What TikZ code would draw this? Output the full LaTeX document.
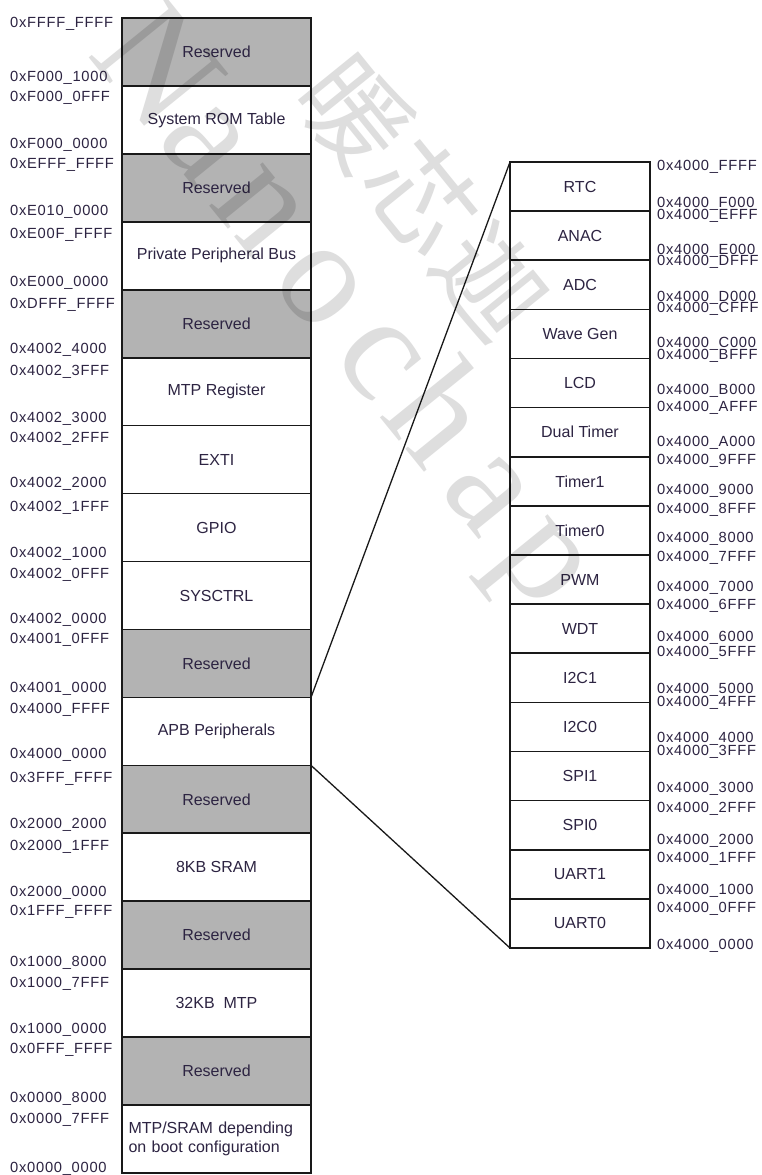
\documentclass[tikz,border=0pt]{standalone}
\usepackage{fontspec}
\setmainfont{Liberation Sans}
\newfontfamily\addrfont[LetterSpace=5]{Liberation Sans}
\newfontfamily\cjk{Noto Sans CJK SC}
\newfontfamily\wmserif{Liberation Serif}
\definecolor{resv}{RGB}{179,179,179}
\definecolor{txt}{RGB}{45,36,66}
\definecolor{edge}{RGB}{25,25,25}
\definecolor{wm}{RGB}{222,222,222}
\begin{document}
\begin{tikzpicture}[x=1pt,y=-1pt,
  lbox/.style={draw=edge, line width=1.6pt, minimum width=189pt, minimum height=67.94pt,
    inner sep=0pt, outer sep=0pt, text=txt, font=\fontsize{16}{18.5}\selectfont, anchor=north west},
  rbox/.style={draw=edge, line width=1.6pt, fill=white, minimum width=140pt, minimum height=49.125pt,
    inner sep=0pt, outer sep=0pt, text=txt, font=\fontsize{16}{18.5}\selectfont, anchor=north west},
  addr/.style={inner sep=0pt, text=txt, font=\addrfont\fontsize{14.7}{17}\selectfont, anchor=base west},
  conn/.style={draw=edge, line width=1.3pt},
  wmtext/.style={text=wm, inner sep=0pt, rotate=-51}]
\fill[white] (0,0) rectangle (761,1175);
\useasboundingbox (0,0) rectangle (761,1175);
% left column
\foreach \t/\c [count=\i from 0] in {Reserved/resv, System ROM Table/white, Reserved/resv,
  Private Peripheral Bus/white, Reserved/resv, MTP Register/white, EXTI/white, GPIO/white,
  SYSCTRL/white, Reserved/resv, APB Peripherals/white, Reserved/resv, 8KB SRAM/white,
  Reserved/resv, 32KB\ \ MTP/white, Reserved/resv}
  \node[lbox, fill=\c] (L\i) at (122,{18+\i*67.94}) {\t};
\node[lbox, fill=white, text width=176pt, align=left] (L16) at (122,{18+16*67.94})
  {MTP/SRAM depending\\on boot configuration};
% right column
\foreach \t [count=\i from 0] in {RTC, ANAC, ADC, Wave Gen, LCD, Dual Timer, Timer1, Timer0,
  PWM, WDT, I2C1, I2C0, SPI1, SPI0, UART1, UART0}
  \node[rbox] (R\i) at (510,{162+\i*49.125}) {\t};
% connectors
\draw[conn] (L10.north east) -- (R0.north west);
\draw[conn] (L10.south east) -- (R15.south west);
% left addresses
\foreach \t/\y [count=\i] in {0xFFFF\_FFFF/22, 0xF000\_1000/76, 0xF000\_0FFF/96, 0xF000\_0000/143,
  0xEFFF\_FFFF/163, 0xE010\_0000/210, 0xE00F\_FFFF/233, 0xE000\_0000/281, 0xDFFF\_FFFF/303,
  0x4002\_4000/348, 0x4002\_3FFF/370, 0x4002\_3000/417, 0x4002\_2FFF/437, 0x4002\_2000/482,
  0x4002\_1FFF/506, 0x4002\_1000/552, 0x4002\_0FFF/573, 0x4002\_0000/618, 0x4001\_0FFF/638,
  0x4001\_0000/687, 0x4000\_FFFF/708, 0x4000\_0000/753, 0x3FFF\_FFFF/777, 0x2000\_2000/823,
  0x2000\_1FFF/845, 0x2000\_0000/891, 0x1FFF\_FFFF/910, 0x1000\_8000/961, 0x1000\_7FFF/982,
  0x1000\_0000/1028, 0x0FFF\_FFFF/1048, 0x0000\_8000/1097, 0x0000\_7FFF/1118, 0x0000\_0000/1167}
  \node[addr] (al\i) at (10,{\y+5.3}) {\t};
% right addresses
\foreach \t/\y [count=\i] in {0x4000\_FFFF/165, 0x4000\_F000/202.5, 0x4000\_EFFF/214.5, 0x4000\_E000/249,
  0x4000\_DFFF/260, 0x4000\_D000/296, 0x4000\_CFFF/307, 0x4000\_C000/342, 0x4000\_BFFF/354,
  0x4000\_B000/389, 0x4000\_AFFF/406, 0x4000\_A000/441, 0x4000\_9FFF/459, 0x4000\_9000/489,
  0x4000\_8FFF/508, 0x4000\_8000/537, 0x4000\_7FFF/556, 0x4000\_7000/586, 0x4000\_6FFF/604,
  0x4000\_6000/636, 0x4000\_5FFF/651, 0x4000\_5000/688.5, 0x4000\_4FFF/701.5, 0x4000\_4000/737,
  0x4000\_3FFF/750, 0x4000\_3000/787, 0x4000\_2FFF/807, 0x4000\_2000/839, 0x4000\_1FFF/857,
  0x4000\_1000/889, 0x4000\_0FFF/907, 0x4000\_0000/944}
  \node[addr] (ar\i) at (657,{\y+5.3}) {\t};
% watermark
\begin{scope}[shift={(355,113)}, rotate=-51, blend mode=multiply]
  \foreach \ch/\s [count=\i] in {暖/0, 芯/108, 迦/216}
    \node[wmtext, font=\cjk\fontsize{106}{106}\selectfont] (wc\i) at (\s,0) {\ch};
  \foreach \ch/\s [count=\i] in {N/-160, a/-72, n/15, o/112, c/206, h/287, a/379, p/468}
    \node[wmtext, anchor=base, font=\wmserif\fontsize{150}{150}\selectfont] (wl\i) at (\s,172) {\ch};
\end{scope}
\end{tikzpicture}
\end{document}
